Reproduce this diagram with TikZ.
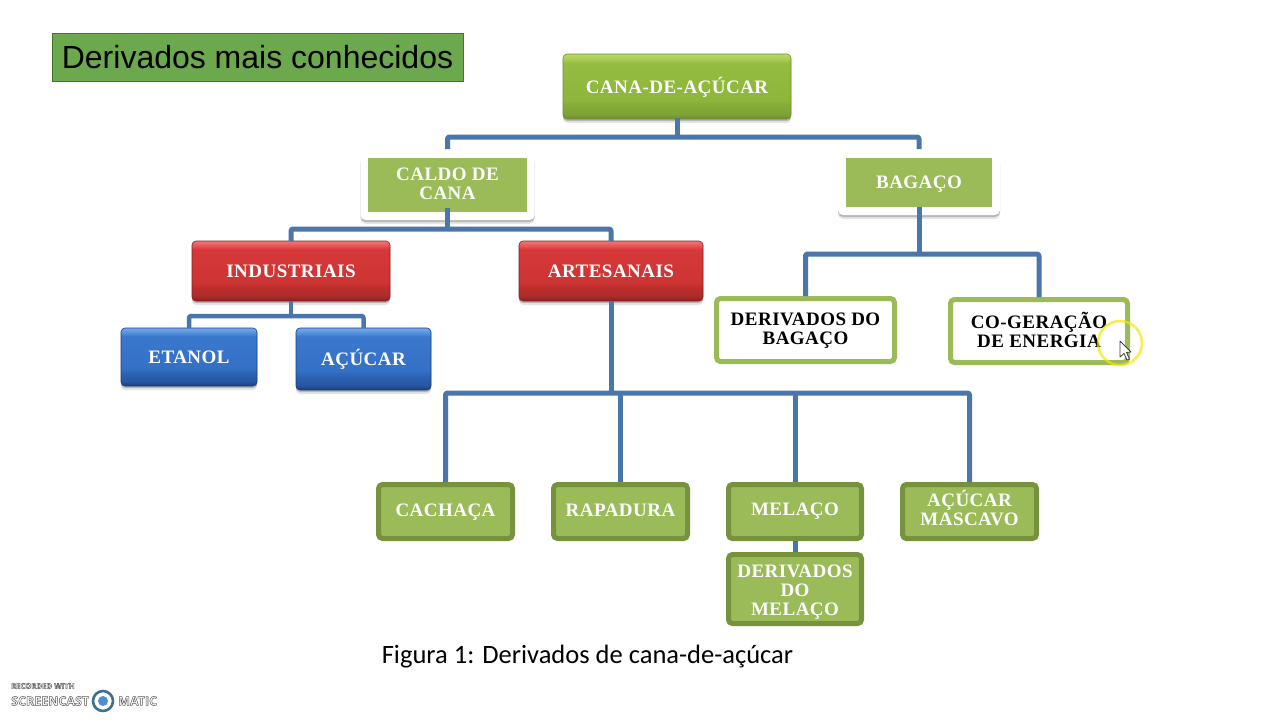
\documentclass[tikz,border=0pt]{standalone}
\usepackage{fontspec}
\usetikzlibrary{shadows}
\setmainfont{Liberation Serif}
\newfontfamily\boxfont[LetterSpace=2.5]{Liberation Serif}
\newfontfamily\titlefont{Liberation Sans}
\newfontfamily\capfont{Carlito}
\newfontfamily\markfont{Open Sans}
\newcommand\lbl[2]{\raisebox{#1pt}[\height][\depth]{\begin{tabular}{@{}c@{}}#2\end{tabular}}}
\definecolor{linkblue}{HTML}{4A76AB}
\definecolor{flatgreen}{HTML}{9BBB59}
\definecolor{flatedge}{HTML}{76923C}
\definecolor{titlegreen}{HTML}{6CA94E}
\definecolor{titleedge}{HTML}{3F7A2C}
\definecolor{ringblue}{HTML}{3F6F8F}
\definecolor{dotblue}{HTML}{4A90D2}
\definecolor{gA}{HTML}{6E8C30}\definecolor{gB}{HTML}{7FA436}\definecolor{gC}{HTML}{86AC38}\definecolor{gD}{HTML}{8EB63C}\definecolor{gE}{HTML}{94BC40}\definecolor{gF}{HTML}{A8CC50}\definecolor{gG}{HTML}{BAD86C}
\definecolor{rA}{HTML}{861F1F}\definecolor{rB}{HTML}{AE2A2A}\definecolor{rC}{HTML}{BC2E2E}\definecolor{rD}{HTML}{CD3434}\definecolor{rE}{HTML}{D63838}\definecolor{rF}{HTML}{E65454}\definecolor{rG}{HTML}{EE7878}
\definecolor{bA}{HTML}{183E78}\definecolor{bB}{HTML}{2658A2}\definecolor{bC}{HTML}{2C62B4}\definecolor{bD}{HTML}{3470C4}\definecolor{bE}{HTML}{3A78CE}\definecolor{bF}{HTML}{5490DE}\definecolor{bG}{HTML}{78AAEC}
\pgfdeclareverticalshading{glossgreen}{100bp}{color(0bp)=(gA); color(25bp)=(gA); color(29bp)=(gB); color(36bp)=(gC); color(40bp)=(gD); color(68bp)=(gE); color(71bp)=(gF); color(75bp)=(gG); color(100bp)=(gG)}
\pgfdeclareverticalshading{glossred}{100bp}{color(0bp)=(rA); color(25bp)=(rA); color(29bp)=(rB); color(36bp)=(rC); color(40bp)=(rD); color(68bp)=(rE); color(71bp)=(rF); color(75bp)=(rG); color(100bp)=(rG)}
\pgfdeclareverticalshading{glossblue}{100bp}{color(0bp)=(bA); color(25bp)=(bA); color(29bp)=(bB); color(36bp)=(bC); color(40bp)=(bD); color(68bp)=(bE); color(71bp)=(bF); color(75bp)=(bG); color(100bp)=(bG)}
\tikzset{
 x=1pt,y=-1pt,
 base/.style={outer sep=0pt,inner sep=0pt,align=center,font=\boxfont\bfseries\fontsize{19}{19}\selectfont,rounded corners=4pt},
 softshadow/.style={drop shadow={shadow xshift=0pt,shadow yshift=-4pt,opacity=.1,fill=black},drop shadow={shadow xshift=0pt,shadow yshift=-2pt,opacity=.2,fill=black}},
 glossg/.style={base,softshadow,shading=glossgreen,draw=gA,line width=.6pt,text=white},
 glossr/.style={base,softshadow,shading=glossred,draw=rA,line width=.6pt,text=white},
 glossb/.style={base,softshadow,shading=glossblue,draw=bA,line width=.6pt,text=white},
 framed/.style={base,softshadow,fill=white,rounded corners=5pt},
 inner/.style={base,fill=flatgreen,rounded corners=0pt,text=white},
 flat/.style={base,fill=flatgreen,draw=flatedge,line width=5pt,text=white},
 hollow/.style={base,fill=white,draw=flatgreen,line width=5pt,text=black},
 link/.style={draw=linkblue,line width=5pt,line join=round,rounded corners=2pt},
 thinlink/.style={link,line width=4.5pt},
 toedge/.style={shorten >=2.5pt},
}
\begin{document}
\begin{tikzpicture}
\useasboundingbox (0,0) rectangle (1280,720);
\fill[white] (0,0) rectangle (1280,720);

% title and caption
\node[name=title,outer sep=0pt,inner sep=0pt,minimum width=411pt,minimum height=48pt,fill=titlegreen,draw=titleedge,line width=.8pt,font=\titlefont\fontsize{32}{32}\selectfont] at (257.5,57) {Derivados mais conhecidos};
\node[name=caption,inner sep=0pt,font=\capfont\fontsize{26.5}{26.5}\selectfont] at (587.5,656.5) {Figura 1: Derivados de cana-de-açúcar};

% nodes
\node[glossg,name=cana,minimum width=228pt,minimum height=65pt] at (677,86.5) {\lbl{-1.5}{CANA-DE-AÇÚCAR}};
\node[framed,name=caldoframe,minimum width=174pt,minimum height=65pt] at (447.5,187.5) {};
\node[inner,name=caldo,minimum width=159pt,minimum height=54pt] at (447.5,185) {\lbl{-1}{CALDO DE\\CANA}};
\node[framed,name=bagacoframe,minimum width=162pt,minimum height=60pt] at (919,185) {};
\node[inner,name=bagaco,minimum width=146pt,minimum height=49pt] at (919,182.5) {\lbl{-2}{BAGAÇO}};
\node[glossr,name=ind,minimum width=198pt,minimum height=60pt] at (291,271) {\lbl{-3}{INDUSTRIAIS}};
\node[glossr,name=art,minimum width=184pt,minimum height=60pt] at (611,271) {\lbl{-3}{ARTESANAIS}};
\node[glossb,name=etanol,minimum width=136pt,minimum height=58pt] at (189,357) {\lbl{-3}{ETANOL}};
\node[glossb,name=acucar,minimum width=135pt,minimum height=62pt] at (363.5,359) {\lbl{-1}{AÇÚCAR}};
\node[hollow,name=derbag,minimum width=178pt,minimum height=63pt] at (805.5,330) {\lbl{-1}{DERIVADOS DO\\BAGAÇO}};
\node[hollow,name=cogen,minimum width=177pt,minimum height=63pt] at (1039,331) {\lbl{-1.5}{CO-GERAÇÃO\\DE ENERGIA}};
\node[flat,name=cachaca,minimum width=134pt,minimum height=54pt] at (445.5,511.5) {\lbl{-1}{CACHAÇA}};
\node[flat,name=rapadura,minimum width=134pt,minimum height=54pt] at (620.5,511.5) {\lbl{-1}{RAPADURA}};
\node[flat,name=melaco,minimum width=133pt,minimum height=54pt] at (795,511.5) {\lbl{0}{MELAÇO}};
\node[flat,name=mascavo,minimum width=134pt,minimum height=54pt] at (969.5,511.5) {\lbl{1}{AÇÚCAR\\MASCAVO}};
\node[flat,name=dermel,minimum width=133pt,minimum height=69pt] at (795,589) {\lbl{-3.5}{DERIVADOS\\DO\\MELAÇO}};

% bus junctions
\coordinate (jtop) at (677,137);
\coordinate (jcaldo) at (447.5,229);
\coordinate (jbag) at (919,254);
\coordinate (jind) at (291,316);
\coordinate (jart) at (611,393);

% connectors
\draw[link,shorten <=-1pt] (cana.south) -- (jtop);
\draw[link,shorten <=6pt,shorten >=6pt] (caldoframe.north) |- (jtop) -| (bagacoframe.north);
\draw[link,shorten <=-4pt] (caldo.south) -- (jcaldo);
\draw[link] (ind.north) |- (jcaldo) -| (art.north);
\draw[link] (bagaco.south) -- (jbag);
\draw[link,shorten <=2.5pt,toedge] (derbag.north) |- (jbag) -| (cogen.north);
\draw[thinlink] (ind.south) -- (jind);
\draw[thinlink] (etanol.north) |- (jind) -| (acucar.north);
\draw[link] (art.south) -- (jart);
\draw[link,shorten <=2.5pt,toedge] (cachaca.north) |- (jart) -| (mascavo.north);
\draw[link,shorten <=2.5pt] (rapadura.north) -- (rapadura.north |- jart);
\draw[link,shorten <=2.5pt] (melaco.north) -- (melaco.north |- jart);
\draw[link,shorten <=2.5pt,toedge] (melaco.south) -- (dermel.north);

% pointer highlight and cursor
\draw[yellow!90!olive,line width=2.5pt,opacity=.7] (1120,343) circle (22pt);
\draw[fill=white,draw=black!75,line width=.8pt,line join=round] (1120,341) -- (1120,357) -- (1124,353.5) -- (1127,360) -- (1129.5,359) -- (1126.5,352.5) -- (1131,352) -- cycle;

% recorder watermark
\node[name=rec,inner sep=0pt,anchor=west,text=white,font=\markfont\bfseries\fontsize{7.7}{8}\selectfont] at (11,686) {\special{pdf:code 2 Tr 0.45 w 0.35 0.35 0.35 RG}RECORDED WITH\special{pdf:code 0 Tr}};
\node[name=cast,inner sep=0pt,anchor=west,text=white,font=\markfont\bfseries\fontsize{12.5}{14}\selectfont] at (11,701) {\special{pdf:code 2 Tr 0.5 w 0.35 0.35 0.35 RG}SCREENCAST\special{pdf:code 0 Tr}};
\node[name=matic,inner sep=0pt,anchor=west,text=white,font=\markfont\bfseries\fontsize{12.5}{14}\selectfont] at (118,701) {\special{pdf:code 2 Tr 0.5 w 0.35 0.35 0.35 RG}MATIC\special{pdf:code 0 Tr}};
\draw[ringblue,line width=2.6pt,fill=white] (103,701) circle (10pt);
\fill[dotblue] (103,701) circle (5pt);
\end{tikzpicture}
\end{document}
